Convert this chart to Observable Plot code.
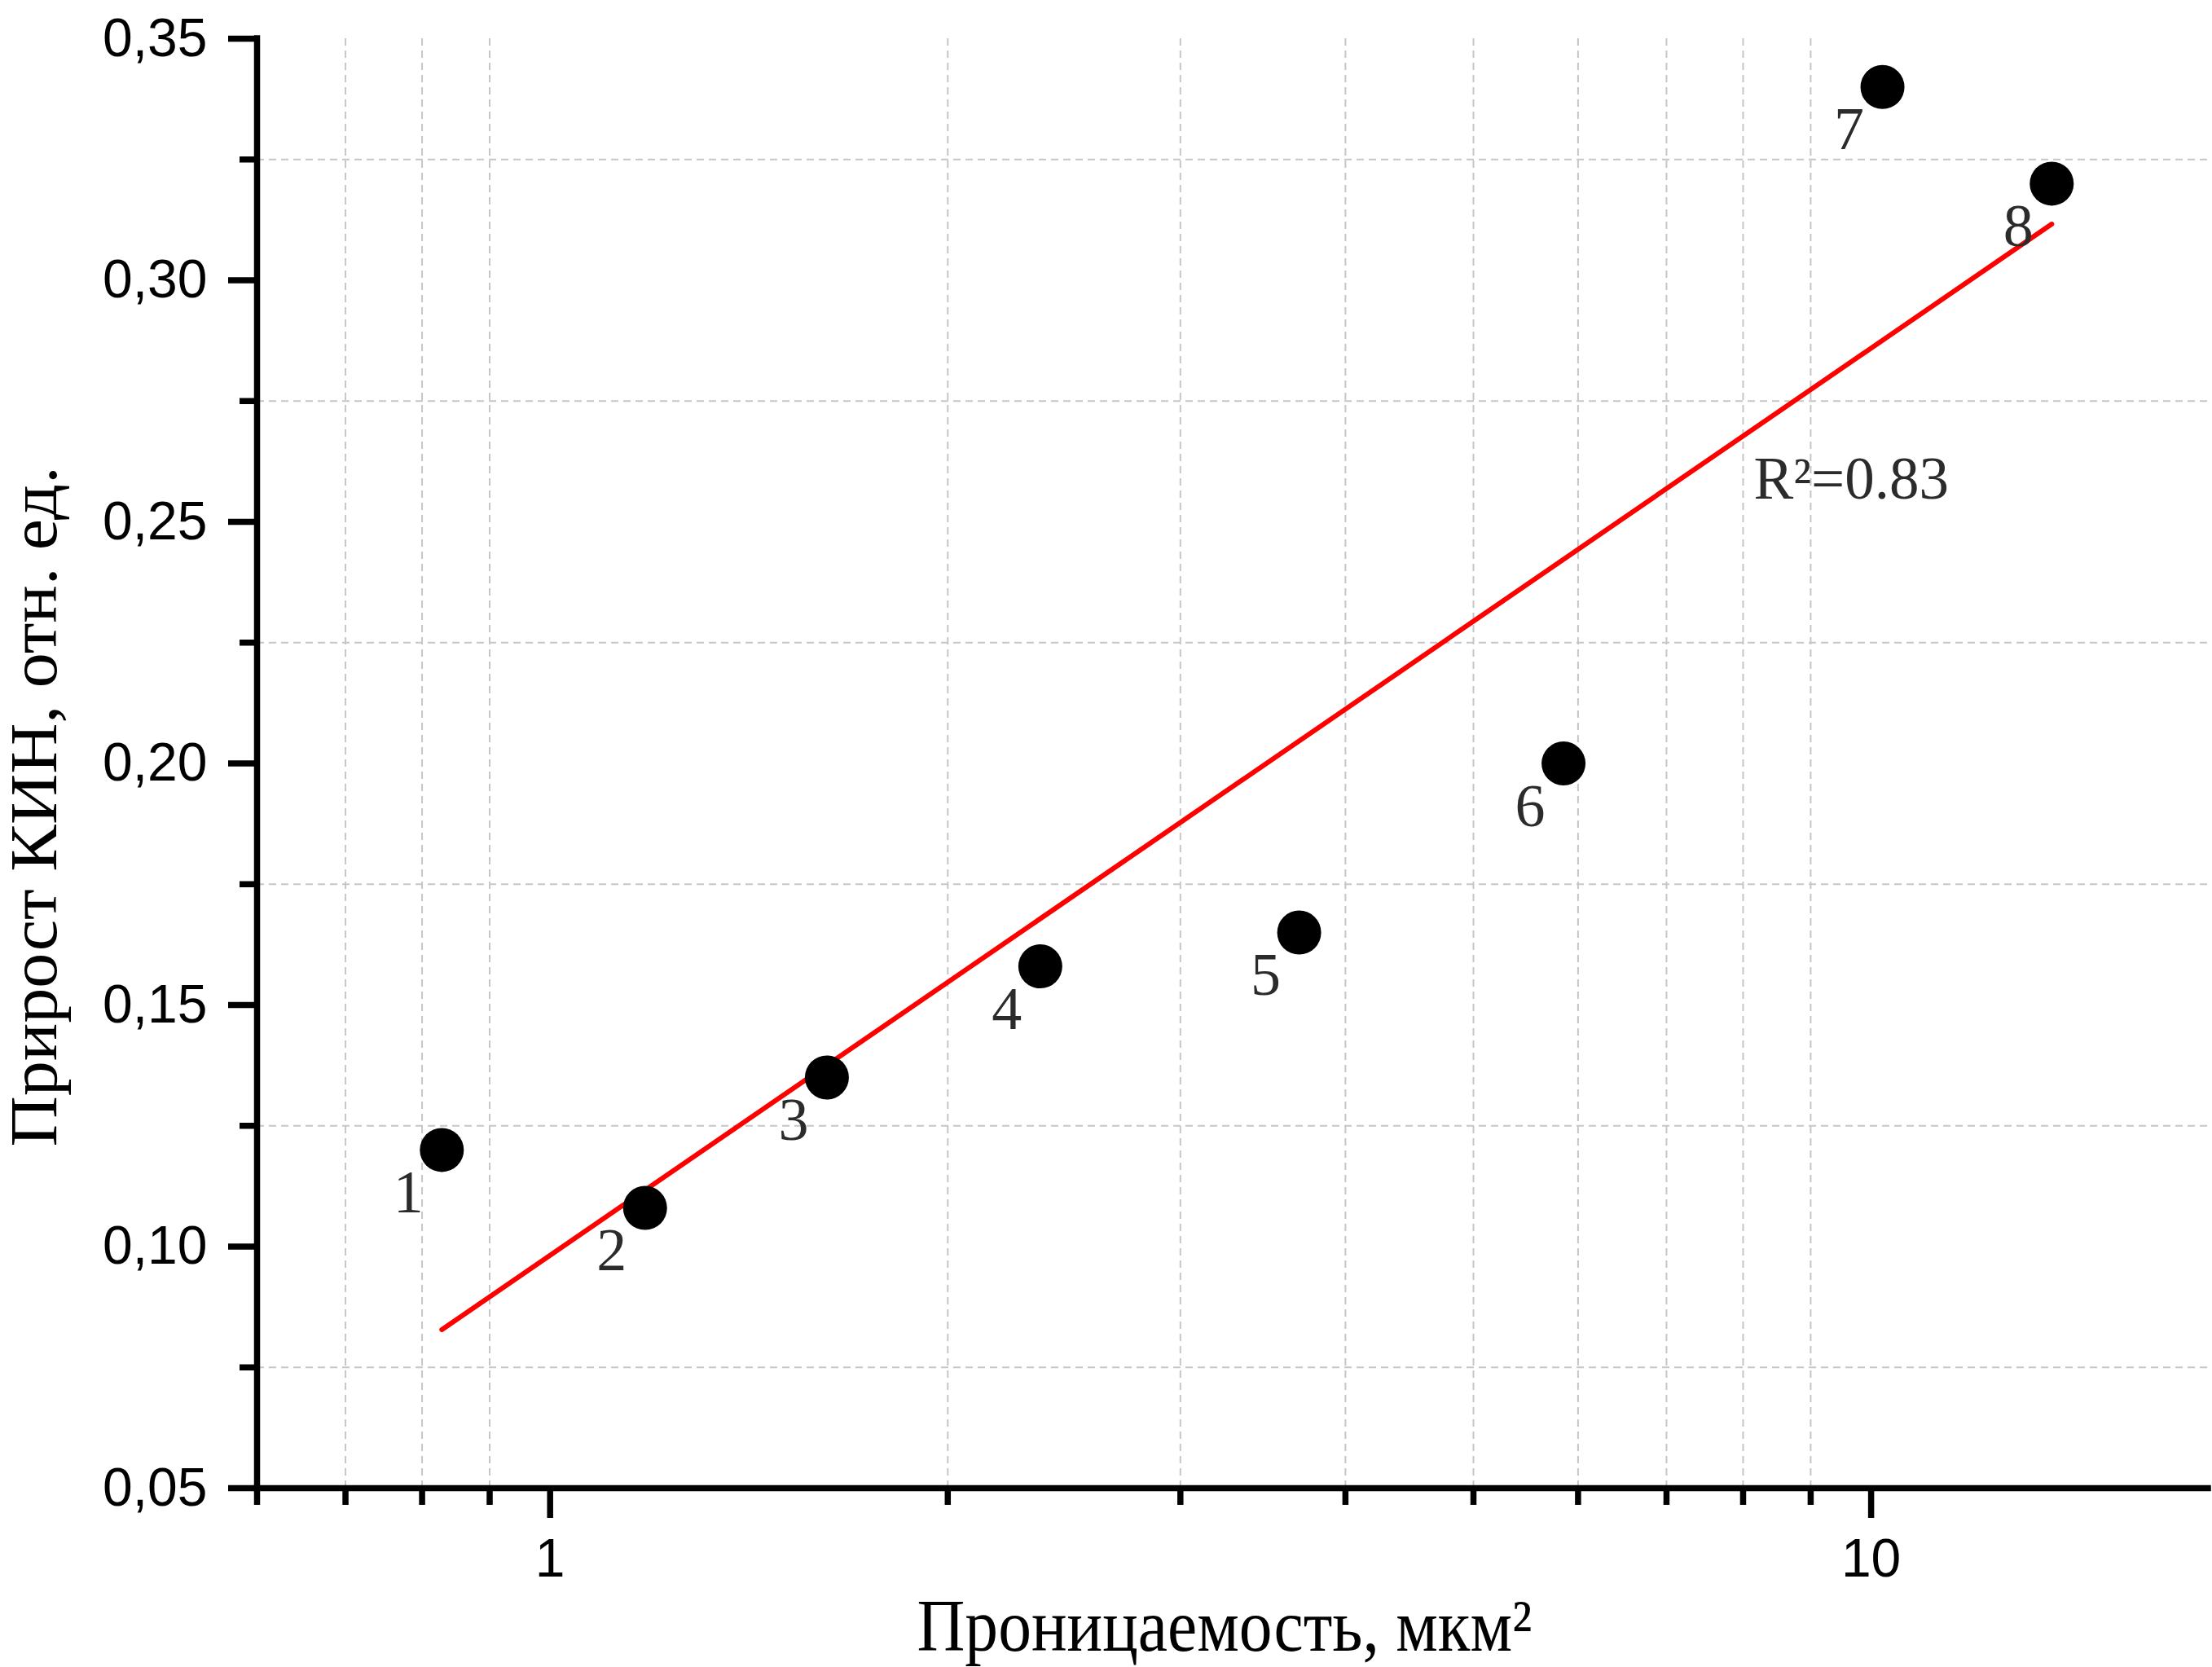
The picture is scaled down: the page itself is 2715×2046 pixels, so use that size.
<!DOCTYPE html>
<html>
<head>
<meta charset="utf-8">
<script src="https://cdn.jsdelivr.net/npm/d3@7"></script>
<script src="https://cdn.jsdelivr.net/npm/@observablehq/plot@0.6"></script>
<style>
  html, body { margin: 0; padding: 0; background: #ffffff; }
  #chart { width: 2715px; height: 2046px; }
</style>
</head>
<body>
<div id="chart"></div>
<script>
// ---- data ----
const pointIds = ["1", "2", "3", "4", "5", "6", "7", "8"];
const permeability = [0.828, 1.18, 1.62, 2.35, 3.69, 5.85, 10.2, 13.7];   // мкм²
const kinGain = [0.120, 0.108, 0.135, 0.158, 0.165, 0.200, 0.340, 0.320]; // отн. ед.

const xDomain = [0.6, 18];
const yDomain = [0.05, 0.35];
const xMajorTicks = [1, 10];
const xMinorTicks = [0.6, 0.7, 0.8, 0.9, 2, 3, 4, 5, 6, 7, 8, 9];
const xGridLines = [0.7, 0.8, 0.9, 2, 3, 4, 5, 6, 7, 8, 9];
const yMajorTicks = [0.05, 0.10, 0.15, 0.20, 0.25, 0.30, 0.35];
const yMinorTicks = [0.075, 0.125, 0.175, 0.225, 0.275, 0.325];

const xTitle = "Проницаемость, мкм²";
const yTitle = "Прирост КИН, отн. ед.";
const r2Label = "R²=0.83";

// ---- build table ----
const points = pointIds.map((id, i) => ({id, k: permeability[i], v: kinGain[i]}));

// least-squares fit of gain on log10(permeability)
const lx = permeability.map(Math.log10);
const mx = d3.mean(lx), my = d3.mean(kinGain);
const sxy = d3.sum(lx, (x, i) => (x - mx) * (kinGain[i] - my));
const sxx = d3.sum(lx, x => (x - mx) ** 2);
const slope = sxy / sxx, intercept = my - slope * mx;
const kExtent = d3.extent(permeability);
const fit = kExtent.map(k => ({k, v: intercept + slope * Math.log10(k)}));

const SERIF = "'Liberation Serif', 'Times New Roman', serif";
const SANS = "'Liberation Sans', Arial, sans-serif";
const gridStyle = {stroke: "#c6c6c6", strokeOpacity: 1, strokeWidth: 2, strokeDasharray: "9,6"};
const AXW = 7.5;

const chart = Plot.plot({
  width: 2715,
  height: 2046,
  marginTop: 47,
  marginRight: 5,
  marginBottom: 220,
  marginLeft: 315,
  style: {fontFamily: SANS, fontSize: "66px", background: "#ffffff", color: "#000000", overflow: "visible"},
  x: {type: "log", domain: xDomain},
  y: {domain: yDomain},
  marks: [
    Plot.gridY({ticks: yMinorTicks, ...gridStyle}),
    Plot.gridX({ticks: xGridLines, ...gridStyle}),
    Plot.line(fit, {x: "k", y: "v", stroke: "#ff0000", strokeWidth: 6}),
    Plot.dot(points, {x: "k", y: "v", r: 27, fill: "#000000", stroke: null}),
    Plot.text(points, {x: "k", y: "v", text: "id", dx: -41, dy: 53, fontFamily: SERIF, fontSize: 74, fill: "#2b2b2b"}),
    Plot.text([r2Label], {text: d => d, frameAnchor: "top-right", textAnchor: "start", lineAnchor: "middle",
      dx: -558, dy: 541, fontFamily: SERIF, fontSize: 73, fill: "#2b2b2b"}),
    // axes
    Plot.axisY({ticks: yMajorTicks, tickSize: 35, tickPadding: 26, strokeWidth: AXW, fontSize: 66, label: null,
      tickFormat: d => d.toFixed(2).replace(".", ",")}),
    Plot.axisY({ticks: yMinorTicks, tickSize: 21, strokeWidth: AXW, label: null, tickFormat: () => ""}),
    Plot.axisX({ticks: xMajorTicks, tickSize: 37, tickPadding: 25, strokeWidth: AXW, fontSize: 66, label: null,
      tickFormat: d => String(d)}),
    Plot.axisX({ticks: xMinorTicks, tickSize: 21, strokeWidth: AXW, label: null, tickFormat: () => ""}),
    Plot.ruleX([xDomain[0]], {strokeWidth: AXW, strokeLinecap: "square"}),
    Plot.ruleY([yDomain[0]], {strokeWidth: AXW, strokeLinecap: "square"}),
    // axis titles
    Plot.text([xTitle], {text: d => d, frameAnchor: "bottom", textAnchor: "middle", lineAnchor: "middle",
      dx: -10, dy: 170, fontFamily: SERIF, fontSize: 92, fill: "#000000"}),
    Plot.text([yTitle], {text: d => d, frameAnchor: "left", textAnchor: "middle", lineAnchor: "middle",
      rotate: -90, dx: -273, dy: 53, fontFamily: SERIF, fontSize: 82, fill: "#000000"})
  ]
});

// condense the axis titles to the reference's text lengths
d3.select(chart).selectAll("text").each(function() {
  const t = this.textContent;
  if (t === xTitle) d3.select(this).attr("textLength", 755).attr("lengthAdjust", "spacingAndGlyphs");
  if (t === yTitle) d3.select(this).attr("textLength", 835).attr("lengthAdjust", "spacingAndGlyphs");
});

document.getElementById("chart").appendChild(chart);
</script>
</body>
</html>
